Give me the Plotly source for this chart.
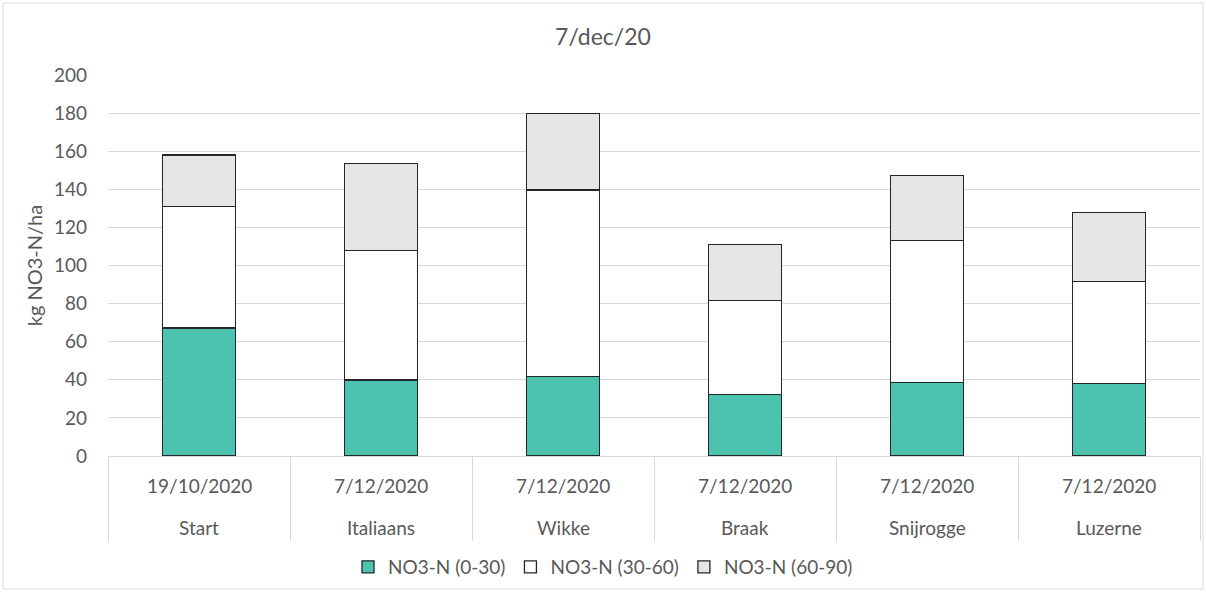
import plotly.graph_objects as go

# data
plots = ["Start", "Italiaans", "Wikke", "Braak", "Snijrogge", "Luzerne"]
dates = ["19/10/2020", "7/12/2020", "7/12/2020", "7/12/2020", "7/12/2020", "7/12/2020"]
no3_0_30 = [67.2, 39.9, 41.7, 32.4, 38.7, 38.0]
no3_30_60 = [63.8, 68.1, 97.9, 49.3, 74.3, 53.7]
no3_60_90 = [27.0, 45.6, 40.2, 29.4, 34.2, 36.2]

series = [
    ("NO3-N (0-30)", no3_0_30, "#4cc3ae"),
    ("NO3-N (30-60)", no3_30_60, "#ffffff"),
    ("NO3-N (60-90)", no3_60_90, "#e4e5e7"),
]

fig = go.Figure()
for name, vals, color in series:
    fig.add_trace(go.Bar(
        x=plots, y=vals, name=name,
        marker=dict(color=color, line=dict(color="#262626", width=1.3)),
    ))

font = "Lato, 'Open Sans', sans-serif"
grey_txt = "#595959"
W, H = 1206, 592
L, R, T, B = 108, 6, 75, 136
pw, ph = W - L - R, H - T - B

# two label rows under the axis (date, then plot name)
for p, d in zip(plots, dates):
    fig.add_annotation(x=p, xref="x", y=-29 / ph, yref="paper", text=d,
                       showarrow=False, yanchor="middle", font=dict(size=19, color=grey_txt))
    fig.add_annotation(x=p, xref="x", y=-71 / ph, yref="paper", text=p,
                       showarrow=False, yanchor="middle", font=dict(size=19, color=grey_txt))

fig.update_layout(
    barmode="stack",
    bargap=0.6,
    width=W, height=H,
    margin=dict(l=L, r=R, t=T, b=B),
    paper_bgcolor="white",
    plot_bgcolor="white",
    font=dict(family=font, size=19, color=grey_txt),
    title=dict(text="7/dec/20", x=0.5, xanchor="center", y=1 - 37 / H, yanchor="middle",
               font=dict(size=23, color=grey_txt)),
    legend=dict(orientation="h", x=(W / 2 - L) / pw, xanchor="center", y=-111 / ph,
                yanchor="middle", bgcolor="rgba(0,0,0,0)",
                font=dict(size=19, color=grey_txt), traceorder="normal", itemwidth=30),
    showlegend=True,
)
fig.update_yaxes(
    range=[0, 200], dtick=20,
    showgrid=True, gridcolor="#d9d9d9", gridwidth=1,
    zeroline=False, showline=False,
    ticks="", ticklabelstandoff=20,
    tickfont=dict(size=19, color=grey_txt),
    title=dict(text="kg NO3-N/ha", font=dict(size=20, color=grey_txt), standoff=5),
)
fig.update_xaxes(
    type="category",
    showline=True, linecolor="#d9d9d9", linewidth=1,
    ticks="outside", tickson="boundaries", ticklen=84, tickcolor="#d9d9d9", tickwidth=1,
    showticklabels=False,
)
# light frame round the whole chart
fig.add_shape(type="rect", xref="paper", yref="paper",
              x0=-(L - 3) / pw, x1=1 + (R - 3) / pw, y0=-(B - 3) / ph, y1=1 + (T - 3) / ph,
              line=dict(color="#d9d9d9", width=1), fillcolor="rgba(0,0,0,0)")

# drop the default body margin so the figure sits at the page corner
fig.write_html("out.html", config={"displayModeBar": False},
               post_script="document.body.style.margin='0';")
